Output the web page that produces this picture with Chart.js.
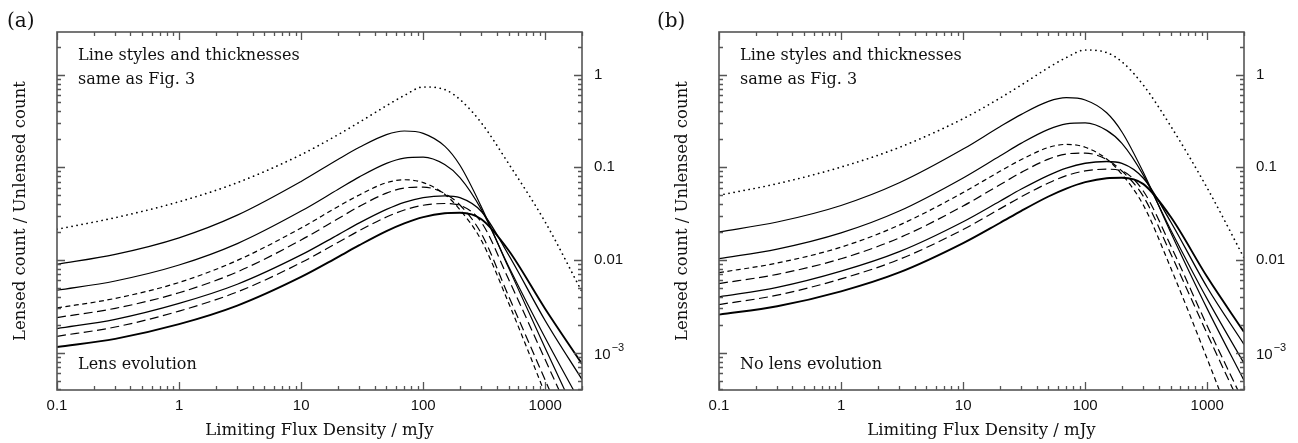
<!DOCTYPE html>
<html>
<head>
<meta charset="utf-8">
<script src="https://cdn.jsdelivr.net/npm/chart.js@4.4.1/dist/chart.umd.min.js"></script>
<style>
  html, body { margin: 0; padding: 0; background: #fff; }
  #wrap { position: relative; width: 1298px; height: 443px; }
  canvas { position: absolute; top: 0; }
  #panelA { left: 0; }
  #panelB { left: 640px; }
</style>
</head>
<body>
<div id="wrap">
  <canvas id="panelA" width="640" height="443"></canvas>
  <canvas id="panelB" width="658" height="443"></canvas>
</div>
<script>
/* Lensed / unlensed source counts vs limiting flux density */

const FLUX = [0.1, 0.3, 1, 3, 10, 20, 30, 50, 70, 100, 150, 200, 300, 500, 1000, 2000];
const X_TICKS = [0.1, 1, 10, 100, 1000];
const Y_TICKS = [0.001, 0.01, 0.1, 1];
const Y_MIN = 3.95e-4;
const Y_MAX = 2.88;

// (a) lens evolution
const A_DOT = [0.02143, 0.02858, 0.04246, 0.06823, 0.1368, 0.2239, 0.3062, 0.4613, 0.5943, 0.7345, 0.6895, 0.5383, 0.3006, 0.1099, 0.02559, 0.004529];
const A_S1  = [0.00897, 0.01148, 0.01732, 0.03041, 0.07031, 0.1213, 0.1642, 0.2252, 0.246, 0.2323, 0.169, 0.105, 0.03733, 0.00826, 0.001114, 0.000157];
const A_S2  = [0.00471, 0.005929, 0.00881, 0.015, 0.03365, 0.05754, 0.0787, 0.1102, 0.1256, 0.1286, 0.1069, 0.07736, 0.03491, 0.008551, 0.001439, 0.0002679];
const A_SD  = [0.003034, 0.003846, 0.005715, 0.009886, 0.02213, 0.03758, 0.05028, 0.06808, 0.07328, 0.0683, 0.05105, 0.03486, 0.01618, 0.003455, 0.0003548, 0.00003327];
const A_LD1 = [0.002388, 0.003006, 0.004426, 0.00743, 0.01641, 0.0278, 0.03784, 0.05254, 0.0597, 0.06113, 0.05212, 0.03917, 0.01916, 0.004093, 0.0005035, 0.00006194];
const A_S3  = [0.001816, 0.002286, 0.003396, 0.005463, 0.01132, 0.01866, 0.02512, 0.03513, 0.04188, 0.0471, 0.04914, 0.04694, 0.03327, 0.01138, 0.002208, 0.0005129];
const A_LD2 = [0.0015, 0.001888, 0.002805, 0.00452, 0.009354, 0.01543, 0.02075, 0.02904, 0.03459, 0.03893, 0.04064, 0.03882, 0.02541, 0.006209, 0.0008356, 0.0001127];
const A_S4  = [0.001151, 0.001409, 0.002028, 0.003214, 0.006553, 0.01072, 0.01442, 0.02044, 0.02477, 0.02897, 0.03184, 0.03224, 0.02748, 0.01271, 0.002958, 0.0007551];

// (b) no lens evolution
const B_DOT = [0.04989, 0.06653, 0.1005, 0.1638, 0.3342, 0.5564, 0.7727, 1.187, 1.524, 1.841, 1.727, 1.374, 0.7674, 0.2805, 0.05957, 0.01054];
const B_S1  = [0.02004, 0.02564, 0.03867, 0.06792, 0.157, 0.2735, 0.372, 0.5133, 0.563, 0.5321, 0.3873, 0.2404, 0.0878, 0.02006, 0.002965, 0.0005012];
const B_S2  = [0.01033, 0.01309, 0.01959, 0.03373, 0.07674, 0.1324, 0.1821, 0.2564, 0.2938, 0.3009, 0.25, 0.1807, 0.08166, 0.02133, 0.003777, 0.0007674];
const B_SD  = [0.007295, 0.009258, 0.01375, 0.02377, 0.05333, 0.09036, 0.1211, 0.1637, 0.1764, 0.1644, 0.1227, 0.08395, 0.0389, 0.008318, 0.0008531, 0.0000798];
const B_LD1 = [0.005559, 0.006998, 0.0103, 0.0173, 0.03819, 0.06471, 0.08803, 0.1223, 0.139, 0.1423, 0.1213, 0.0912, 0.04831, 0.0118, 0.001589, 0.0002244];
const B_S3  = [0.00399, 0.005047, 0.007551, 0.01227, 0.02582, 0.043, 0.05821, 0.08189, 0.09804, 0.1105, 0.1153, 0.1102, 0.07603, 0.026, 0.005041, 0.001227];
const B_LD2 = [0.003296, 0.004169, 0.006242, 0.01014, 0.02133, 0.03556, 0.04808, 0.06769, 0.0811, 0.09141, 0.09528, 0.09108, 0.05508, 0.01439, 0.001938, 0.0002861];
const B_S4  = [0.00257, 0.003162, 0.004581, 0.007328, 0.01518, 0.02506, 0.03388, 0.04837, 0.05888, 0.06902, 0.07621, 0.07709, 0.06577, 0.02938, 0.006531, 0.001667];

// one entry per curve, same order as the series lists
const STYLES = [
  { dash: [0.1, 5], width: 1.7, cap: 'round' },  // dotted
  { dash: [], width: 1.2 },
  { dash: [], width: 1.2 },
  { dash: [5, 3.5], width: 1.2 },
  { dash: [9, 4.5], width: 1.2 },
  { dash: [], width: 1.3 },
  { dash: [9, 4.5], width: 1.2 },
  { dash: [], width: 1.9 },
];

const SERIF = '"DejaVu Serif", "Liberation Serif", serif';
const SANS = '"Liberation Sans", Arial, sans-serif';
const FRAME = '#555';
const INK = '#111';

/**
 * Cadre + graduations intérieures sur les quatre côtés (style PGPLOT).
 */
const frameTicks = {
  id: 'frameTicks',
  afterDatasetsDraw(chart) {
    const { ctx, chartArea: a, scales } = chart;
    const xs = scales.x, ys = scales.y;
    ctx.save();
    ctx.strokeStyle = FRAME;
    ctx.lineWidth = 1.3;
    ctx.beginPath();
    for (let d = -1; d <= 3; d++) {
      for (let k = 1; k <= 9; k++) {
        const v = k * Math.pow(10, d);
        if (v < xs.min || v > xs.max) continue;
        const px = Math.round(xs.getPixelForValue(v)) + 0.5;
        const len = k === 1 ? 8 : 4;
        ctx.moveTo(px, a.bottom); ctx.lineTo(px, a.bottom - len);
        ctx.moveTo(px, a.top); ctx.lineTo(px, a.top + len);
      }
    }
    for (let d = -4; d <= 0; d++) {
      for (let k = 1; k <= 9; k++) {
        const v = k * Math.pow(10, d);
        if (v < ys.min || v > ys.max) continue;
        const py = Math.round(ys.getPixelForValue(v)) + 0.5;
        const len = k === 1 ? 8 : 4;
        ctx.moveTo(a.left, py); ctx.lineTo(a.left + len, py);
        ctx.moveTo(a.right, py); ctx.lineTo(a.right - len, py);
      }
    }
    ctx.stroke();
    ctx.lineWidth = 1.6;
    ctx.strokeRect(a.left, a.top, a.right - a.left, a.bottom - a.top);
    ctx.restore();
  }
};

const notes = {
  id: 'notes',
  afterDraw(chart, args, opts) {
    const { ctx, chartArea: a, scales } = chart;
    ctx.save();
    ctx.fillStyle = INK;
    ctx.textBaseline = 'middle';
    ctx.font = '16px ' + SERIF;
    ctx.fillText('Line styles and thicknesses', a.left + 21, 56);
    ctx.fillText('same as Fig. 3', a.left + 21, 80);
    ctx.fillText(opts.corner, a.left + 21, 365);
    ctx.font = '20px ' + SERIF;
    ctx.fillText(opts.panel, a.left - opts.panelOffset, 22);

    // 10^-3 avec exposant
    const y3 = scales.y.getPixelForValue(0.001);
    const x0 = a.right + 12;
    ctx.font = '15px ' + SANS;
    ctx.fillText('10', x0, y3 + 2);
    const w = ctx.measureText('10').width;
    ctx.font = '11px ' + SANS;
    ctx.fillText('\u22123', x0 + w + 1, y3 - 5);
    ctx.restore();
  }
};

function makePanel(canvasId, series, panel, corner, panelOffset) {
  const canvas = document.getElementById(canvasId);
  const W = canvas.width;
  const isA = canvasId === 'panelA';

  const datasets = series.map((vals, i) => {
    const s = STYLES[i];
    return {
      data: FLUX.map((x, j) => ({ x, y: vals[j] })),
      borderColor: '#000',
      borderWidth: s.width,
      borderDash: s.dash,
      borderCapStyle: s.cap || 'butt',
      pointRadius: 0,
      cubicInterpolationMode: 'monotone',
      fill: false,
    };
  });

  return new Chart(canvas.getContext('2d'), {
    type: 'line',
    data: { datasets },
    options: {
      responsive: false,
      animation: false,
      events: [],
      layout: { padding: { top: 32, left: 0, right: 0, bottom: 0 } },
      plugins: {
        legend: { display: false },
        tooltip: { enabled: false },
        notes: { panel, corner, panelOffset },
      },
      scales: {
        x: {
          type: 'logarithmic',
          position: 'bottom',
          min: 0.1,
          max: 2000,
          afterBuildTicks: (s) => { s.ticks = X_TICKS.map(v => ({ value: v })); },
          afterFit: (s) => { s.height = 53; },
          grid: { display: false, drawTicks: false },
          border: { display: false },
          ticks: {
            autoSkip: false, maxRotation: 0, padding: 7,
            color: INK,
            font: { family: SANS, size: 15 },
            callback: (v) => String(v),
          },
          title: {
            display: true,
            text: 'Limiting Flux Density / mJy',
            color: INK,
            font: { family: SERIF, size: 16.5 },
            padding: { top: 0, bottom: 2 },
          },
        },
        y: {
          type: 'logarithmic',
          position: 'right',
          min: Y_MIN,
          max: Y_MAX,
          afterBuildTicks: (s) => { s.ticks = Y_TICKS.map(v => ({ value: v })); },
          afterFit: (s) => { s.width = W - (isA ? 582 : 604); },
          grid: { display: false, drawTicks: false },
          border: { display: false },
          ticks: {
            autoSkip: false, padding: 12,
            color: INK,
            font: { family: SANS, size: 15 },
            callback: (v) => v === 0.001 ? '' : String(v),
          },
        },
        yl: {
          type: 'logarithmic',
          position: 'left',
          min: Y_MIN,
          max: Y_MAX,
          afterFit: (s) => { s.width = isA ? 57 : 79; },
          grid: { display: false, drawTicks: false },
          border: { display: false },
          ticks: { display: false },
          title: {
            display: true,
            text: 'Lensed count / Unlensed count',
            color: INK,
            font: { family: SERIF, size: 16.5 },
            padding: { top: isA ? 11 : 33 },
          },
        },
      },
    },
    plugins: [frameTicks, notes],
  });
}

makePanel('panelA', [A_DOT, A_S1, A_S2, A_SD, A_LD1, A_S3, A_LD2, A_S4], '(a)', 'Lens evolution', 50);
makePanel('panelB', [B_DOT, B_S1, B_S2, B_SD, B_LD1, B_S3, B_LD2, B_S4], '(b)', 'No lens evolution', 62);
</script>
</body>
</html>
